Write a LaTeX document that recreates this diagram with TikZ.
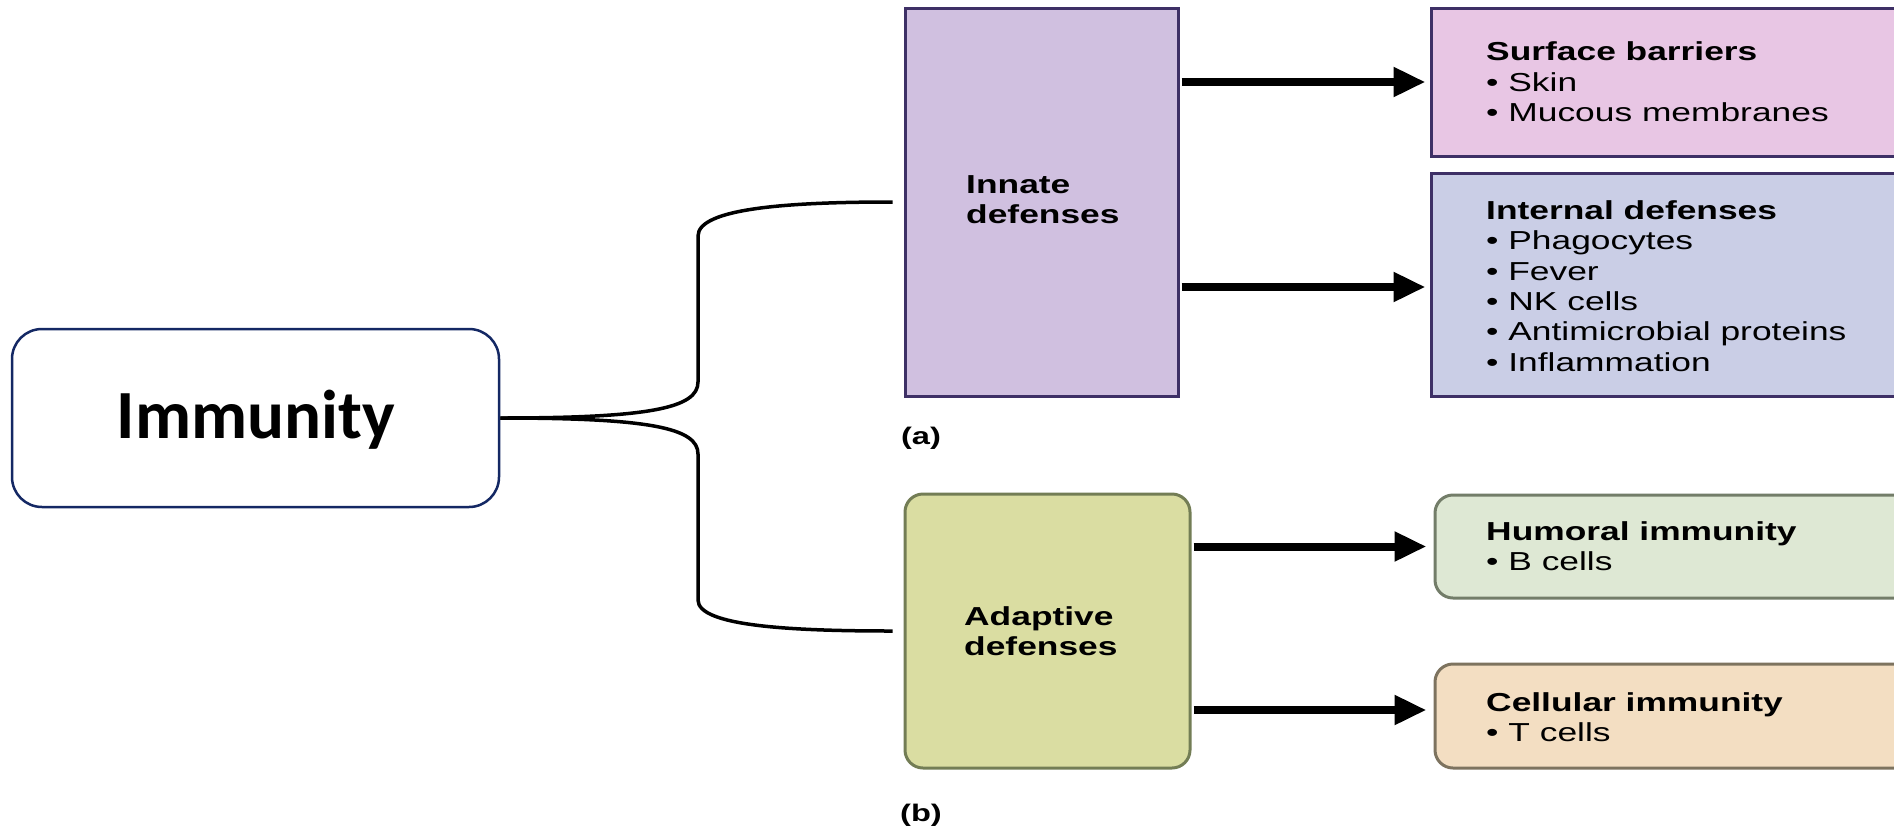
\documentclass[tikz,border=0pt]{standalone}
\usepackage{fontspec}
\setmainfont{Liberation Sans}
\newfontfamily\figfont{Liberation Sans}[FakeStretch=1.36]
\newfontfamily\calfont{Carlito}
\usetikzlibrary{arrows.meta,calc}
\definecolor{navy}{RGB}{20,40,100}
\definecolor{innfill}{RGB}{208,192,224}
\definecolor{surffill}{RGB}{232,198,228}
\definecolor{intfill}{RGB}{202,206,230}
\definecolor{adafill}{RGB}{218,221,162}
\definecolor{humfill}{RGB}{222,232,212}
\definecolor{celfill}{RGB}{243,222,194}
\definecolor{purpbord}{RGB}{62,48,102}
\definecolor{olivebord}{RGB}{115,125,85}
\definecolor{greenbord}{RGB}{115,125,105}
\definecolor{brownbord}{RGB}{125,115,95}
\tikzset{
  box/.style={draw, line width=3pt, inner sep=0pt},
  rbox/.style={box, rounded corners=18pt},
  txt/.style={inner sep=0pt, align=left, anchor=west, font=\figfont\fontsize{26}{30.3}\selectfont},
  bigarrow/.style={line width=8pt, -{Triangle[length=32pt,width=28pt]}},
  bracel/.style={line width=3.5pt},
  lbl/.style={inner sep=0pt, font=\figfont\bfseries\fontsize{24}{26}\selectfont}
}
\begin{document}
\begin{tikzpicture}[x=1pt,y=-1pt]
\useasboundingbox[fill=white] (0,0) rectangle (1894,828);
% Immunity
\node[draw=navy, line width=2.5pt, rounded corners=30pt, minimum width=487pt, minimum height=178pt, inner sep=0pt] (imm) at (255.5,418) {};
\node[inner sep=0pt, font=\calfont\bfseries\fontsize{69}{72}\selectfont] (immt) at (256,420) {Immunity};
% left boxes
\node[box, draw=purpbord, fill=innfill, minimum width=273pt, minimum height=388pt] (inn) at (1041.5,202) {};
\node[rbox, draw=olivebord, fill=adafill, minimum width=285pt, minimum height=274pt] (ada) at (1047.5,631) {};
% right boxes
\node[box, draw=purpbord, fill=surffill, minimum width=489pt, minimum height=148pt] (surf) at (1675.5,82) {};
\node[box, draw=purpbord, fill=intfill, minimum width=489pt, minimum height=223pt] (int) at (1675.5,284.5) {};
\node[rbox, draw=greenbord, fill=humfill, minimum width=485pt, minimum height=103pt] (hum) at (1677.5,546.5) {};
\node[rbox, draw=brownbord, fill=celfill, minimum width=485pt, minimum height=104pt] (cel) at (1677.5,716) {};
% texts
\node[txt] (innt) at (966,200) {\textbf{Innate}\\\textbf{defenses}};
\node[txt] (adat) at (964,631) {\textbf{Adaptive}\\\textbf{defenses}};
\node[txt] (surft) at (1486,82) {\textbf{Surface barriers}\\• Skin\\• Mucous membranes};
\node[txt] (intt) at (1486,286) {\textbf{Internal defenses}\\• Phagocytes\\• Fever\\• NK cells\\• Antimicrobial proteins\\• Inflammation};
\node[txt] (humt) at (1486,546) {\textbf{Humoral immunity}\\• B cells};
\node[txt] (celt) at (1486,717) {\textbf{Cellular immunity}\\• T cells};
% labels
\node[lbl] (la) at (921,438) {(a)};
\node[lbl] (lb) at (921,815) {(b)};
% arrows
\draw[bigarrow, shorten <=2pt, shorten >=4pt] (inn.east |- surf.west) -- (surf.west);
\draw[bigarrow, shorten <=2pt, shorten >=4pt] (inn.east |- 0,287) -- (int.west |- 0,287);
\draw[bigarrow, shorten <=2pt, shorten >=7pt] (ada.east |- hum.west) -- (hum.west);
\draw[bigarrow, shorten <=2pt, shorten >=7pt] (ada.east |- 0,710) -- (cel.west |- 0,710);
% brace
\draw[bracel, shorten >=11pt] (imm.east) .. controls (650,418) and (698,408) .. (698,382) -- (698,236) .. controls (698,208) and (790,202) .. (inn.west);
\draw[bracel, shorten >=11pt] (imm.east) .. controls (650,418) and (698,428) .. (698,454) -- (698,600) .. controls (698,626) and (790,631) .. (ada.west);
\end{tikzpicture}
\end{document}
